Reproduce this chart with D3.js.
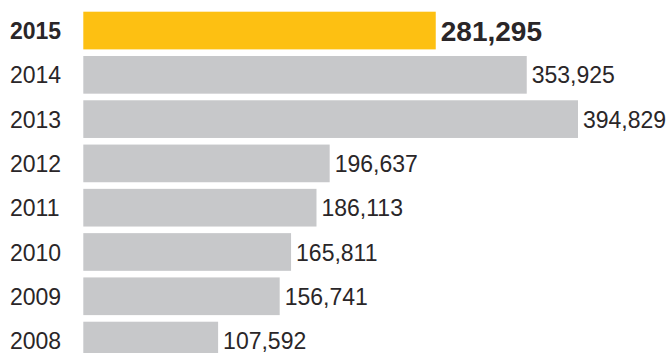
<!DOCTYPE html>
<html>
<head>
<meta charset="utf-8">
<script src="https://cdn.jsdelivr.net/npm/d3@7"></script>
<style>
  html, body { margin: 0; padding: 0; background: #fff; overflow: hidden; }
  text { font-family: "Liberation Sans", Arial, sans-serif; }
</style>
</head>
<body>
<div id="container"></div>
<script>
/* DATA */
const years = ["2015", "2014", "2013", "2012", "2011", "2010", "2009", "2008"];
const values = [281295, 353925, 394829, 196637, 186113, 165811, 156741, 107592];
const highlightYear = "2015";

/* CONSTANTS */
const width = 667,
  height = 353;

const svg = d3.select("#container").append("svg")
  .attr("width", width)
  .attr("height", height)
  .style("display", "block");

// SCALES
const y = d3.scaleBand()
  .domain(years)
  .range([11.7, 359.4])
  .paddingInner(0.149)
  .paddingOuter(0);

const x = d3.scaleLinear()
  .domain([0, d3.max(values)])
  .range([83.3, 578]);

const rows = years.map((yr, i) => ({ year: yr, value: values[i] }));
const fmt = d3.format(",");

// BARS
svg.selectAll("rect.bar")
  .data(rows)
  .join("rect")
  .attr("class", "bar")
  .attr("x", x(0))
  .attr("y", d => y(d.year))
  .attr("width", d => x(d.value) - x(0))
  .attr("height", y.bandwidth())
  .attr("fill", d => d.year === highlightYear ? "#fdc012" : "#c7c8ca");

// YEAR LABELS
svg.selectAll("text.year")
  .data(rows)
  .join("text")
  .attr("class", "year")
  .attr("x", 10)
  .attr("y", d => y(d.year) + 27.5)
  .attr("font-size", 23)
  .attr("font-weight", d => d.year === highlightYear ? "bold" : "normal")
  .attr("fill", "#2a2628")
  .text(d => d.year);

// VALUE LABELS
svg.selectAll("text.value")
  .data(rows)
  .join("text")
  .attr("class", "value")
  .attr("x", d => x(d.value) + 5)
  .attr("y", d => y(d.year) + (d.year === highlightYear ? 29 : 27.5))
  .attr("font-size", d => d.year === highlightYear ? 28 : 23)
  .attr("font-weight", d => d.year === highlightYear ? "bold" : "normal")
  .attr("fill", "#2a2628")
  .text(d => fmt(d.value));
</script>
</body>
</html>
